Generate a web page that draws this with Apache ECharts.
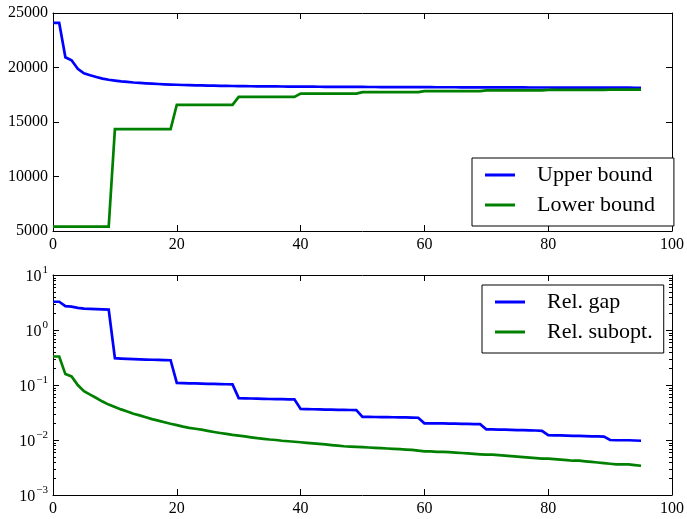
<!DOCTYPE html>
<html>
<head>
<meta charset="utf-8">
<script src="https://cdn.jsdelivr.net/npm/echarts/dist/echarts.min.js"></script>
<style>
  html, body { margin: 0; padding: 0; background: #fff; }
  #chart { width: 687px; height: 519px; }
</style>
</head>
<body>
<div id="chart"></div>
<script>
// ---------------- data ----------------
const iterations = [0,1,2,3,4,5,6,7,8,9,10,11,12,13,14,15,16,17,18,19,20,21,22,23,24,25,26,27,28,29,
  30,31,32,33,34,35,36,37,38,39,40,41,42,43,44,45,46,47,48,49,50,51,52,53,54,55,56,57,58,59,
  60,61,62,63,64,65,66,67,68,69,70,71,72,73,74,75,76,77,78,79,80,81,82,83,84,85,86,87,88,89,
  90,91,92,93,94,95];

const upperBound = [
  24100,24100,20937,20665,19888,19472,19291,19129,18984,18876,
  18803,18731,18677,18622,18586,18550,18514,18487,18460,18436,
  18416,18396,18380,18369,18358,18346,18333,18322,18313,18304,
  18297,18290,18282,18275,18270,18264,18261,18255,18252,18248,
  18245,18241,18237,18234,18230,18226,18223,18219,18217,18216,
  18214,18212,18210,18208,18207,18205,18203,18201,18199,18196,
  18192,18192,18190,18190,18188,18187,18185,18183,18181,18179,
  18178,18178,18176,18174,18172,18170,18169,18167,18165,18163,
  18163,18161,18160,18158,18156,18156,18154,18152,18151,18149,
  18147,18145,18145,18145,18143,18141];

const lowerBound = [
  5400,5400,5400,5400,5400,5400,5400,5400,5400,5400,
  14350,14350,14350,14350,14350,14350,14350,14350,14350,14350,
  16580,16580,16580,16580,16580,16580,16580,16580,16580,16580,
  17300,17300,17300,17300,17300,17300,17300,17300,17300,17300,
  17600,17600,17600,17600,17600,17600,17600,17600,17600,17600,
  17745,17745,17745,17745,17745,17745,17745,17745,17745,17745,
  17833,17833,17833,17833,17833,17833,17833,17833,17833,17833,
  17899,17899,17899,17899,17899,17899,17899,17899,17899,17899,
  17943,17943,17943,17943,17943,17943,17943,17943,17943,17943,
  17967,17967,17967,17967,17967,17967];

const relGap = [
  3.26,3.26,2.71,2.66,2.53,2.45,2.42,2.39,2.37,2.35,
  0.3076,0.3026,0.2988,0.2950,0.2925,0.2900,0.2875,0.2856,0.2837,0.2821,
  0.1094,0.1082,0.1072,0.1066,0.1059,0.1052,0.1044,0.1037,0.1032,0.1027,
  0.0576,0.0572,0.0568,0.0564,0.0561,0.0557,0.0555,0.0552,0.0550,0.0548,
  0.0366,0.0364,0.0362,0.0360,0.0358,0.0356,0.0354,0.0352,0.0351,0.0350,
  0.0264,0.0263,0.0262,0.0261,0.0260,0.0259,0.0258,0.0257,0.0256,0.0254,
  0.0201,0.0201,0.0200,0.0200,0.0199,0.0199,0.0197,0.0196,0.0195,0.0194,
  0.0156,0.0156,0.0155,0.0154,0.0153,0.0151,0.0151,0.0150,0.0149,0.0147,
  0.0123,0.0121,0.0121,0.0120,0.0119,0.0119,0.0118,0.0116,0.0116,0.0115,
  0.0100,0.0099,0.0099,0.0099,0.0098,0.0097];

const relSubopt = [
  0.330,0.330,0.158,0.143,0.100,0.077,0.067,0.058,0.050,0.044,
  0.040,0.036,0.033,0.030,0.028,0.026,0.024,0.0225,0.021,0.0197,
  0.0186,0.0175,0.0166,0.0160,0.0154,0.0147,0.0140,0.0134,0.0129,0.0124,
  0.0120,0.0116,0.0112,0.0108,0.0105,0.0102,0.0100,0.0097,0.0095,0.0093,
  0.0091,0.0089,0.0087,0.0085,0.0083,0.0081,0.0079,0.0077,0.0076,0.0075,
  0.0074,0.0073,0.0072,0.0071,0.0070,0.0069,0.0068,0.0067,0.0066,0.0064,
  0.0062,0.0062,0.0061,0.0061,0.0060,0.0059,0.0058,0.0057,0.0056,0.0055,
  0.0054,0.0054,0.0053,0.0052,0.0051,0.0050,0.0049,0.0048,0.0047,0.0046,
  0.0046,0.0045,0.0044,0.0043,0.0042,0.0042,0.0041,0.0040,0.0039,0.0038,
  0.0037,0.0036,0.0036,0.0036,0.0035,0.0034];

// tick settings
const xTicks = [0, 20, 40, 60, 80, 100];
const topYTicks = [5000, 10000, 15000, 20000, 25000];
const logDecades = [0.001, 0.01, 0.1, 1, 10];
const minorMultipliers = [2, 3, 4, 5, 6, 7, 8, 9];

const topSeriesNames = ['Upper bound', 'Lower bound'];
const bottomSeriesNames = ['Rel. gap', 'Rel. subopt.'];

// ---------------- helpers ----------------
const FONT = 'Liberation Serif';
const BLUE = '#0000ff';
const GREEN = '#008000';

function pairs(ys) { return iterations.map((x, i) => [x, ys[i]]); }

const minorTickData = [];
for (let d = 0; d < logDecades.length - 1; d++) {
  for (const m of minorMultipliers) minorTickData.push([xTicks[0], logDecades[d] * m]);
}

function baseAxisCommon() {
  return {
    axisLine: { show: true, onZero: false, lineStyle: { color: '#000', width: 1 } },
    axisTick: { show: true, inside: true, length: 6, lineStyle: { color: '#000', width: 1 } },
    splitLine: { show: false },
  };
}

function xAxisDef(gridIndex, position, showLabels) {
  return Object.assign(baseAxisCommon(), {
    type: 'value', gridIndex, position,
    min: xTicks[0], max: xTicks[xTicks.length - 1], interval: xTicks[1] - xTicks[0],
    axisLabel: { show: showLabels, margin: 6, color: '#000', fontFamily: FONT, fontSize: 16,
      formatter: v => String(v) }
  });
}

function topYAxisDef(position, showLabels) {
  return Object.assign(baseAxisCommon(), {
    type: 'value', gridIndex: 0, position,
    min: topYTicks[0], max: topYTicks[topYTicks.length - 1], interval: topYTicks[1] - topYTicks[0],
    axisLabel: { show: showLabels, margin: 5, color: '#000', fontFamily: FONT, fontSize: 16,
      formatter: v => String(v) }
  });
}

function logYAxisDef(position, showLabels) {
  return Object.assign(baseAxisCommon(), {
    type: 'log', logBase: 10, gridIndex: 1, position,
    min: logDecades[0], max: logDecades[logDecades.length - 1], splitNumber: 4,
    axisLabel: {
      show: showLabels, margin: 5, color: '#000',
      formatter: function (v) {
        const e = Math.round(Math.log10(v));
        const es = e < 0 ? '\u2212' + (-e) : String(e);
        return '{b|10}{s|' + es + '}';
      },
      rich: {
        b: { fontFamily: FONT, fontSize: 16, color: '#000', lineHeight: 20, verticalAlign: 'bottom', padding: [6, 0, 0, 0] },
        s: { fontFamily: FONT, fontSize: 11, color: '#000', lineHeight: 20, verticalAlign: 'top', padding: [0, 0, 6, 1] }
      }
    }
  });
}

function minorTickRender(params, api) {
  const v = api.value(1);
  const pl = api.coord([xTicks[0], v]);
  const pr = api.coord([xTicks[xTicks.length - 1], v]);
  const y = Math.round(pl[1]) + 0.5;
  return {
    type: 'group',
    children: [
      { type: 'line', shape: { x1: pl[0], y1: y, x2: pl[0] + 3, y2: y }, style: { stroke: '#000', lineWidth: 1 } },
      { type: 'line', shape: { x1: pr[0] - 3, y1: y, x2: pr[0], y2: y }, style: { stroke: '#000', lineWidth: 1 } }
    ]
  };
}

function lineSeries(name, ys, color, xi, yi) {
  return {
    name, type: 'line', xAxisIndex: xi, yAxisIndex: yi,
    data: pairs(ys), showSymbol: false, symbol: 'none',
    lineStyle: { color, width: 2.7, join: 'miter' }, itemStyle: { color },
    emphasis: { disabled: true }, z: 3
  };
}

function legendDef(names, left, top, padding) {
  return {
    data: names, orient: 'vertical', left, top,
    icon: 'rect', itemWidth: 30, itemHeight: 3, itemGap: 8,
    borderColor: '#000', borderWidth: 1, borderRadius: 0, backgroundColor: '#fff',
    padding,
    textStyle: { fontFamily: FONT, fontSize: 22, color: '#000', lineHeight: 20, padding: [0, 0, 0, 17] },
    selectedMode: false
  };
}

const chart = echarts.init(document.getElementById('chart'), null, { renderer: 'canvas' });
chart.setOption({
  animation: false,
  backgroundColor: '#fff',
  grid: [
    { left: 53, top: 13, width: 621, height: 218 },
    { left: 53, top: 275, width: 621, height: 220 }
  ],
  xAxis: [
    xAxisDef(0, 'bottom', true),
    xAxisDef(0, 'top', false),
    xAxisDef(1, 'bottom', true),
    xAxisDef(1, 'top', false)
  ],
  yAxis: [
    topYAxisDef('left', true),
    topYAxisDef('right', false),
    logYAxisDef('left', true),
    logYAxisDef('right', false)
  ],
  legend: [
    legendDef(topSeriesNames, 472, 158, [6, 19, 10, 13]),
    legendDef(bottomSeriesNames, 482, 285, [6, 11, 10, 13])
  ],
  series: [
    lineSeries(topSeriesNames[0], upperBound, BLUE, 0, 0),
    lineSeries(topSeriesNames[1], lowerBound, GREEN, 0, 0),
    lineSeries(bottomSeriesNames[0], relGap, BLUE, 2, 2),
    lineSeries(bottomSeriesNames[1], relSubopt, GREEN, 2, 2),
    {
      type: 'custom', name: 'minorTicks', xAxisIndex: 2, yAxisIndex: 2,
      data: minorTickData, renderItem: minorTickRender, clip: false, silent: true, z: 5
    }
  ]
});
</script>
</body>
</html>
